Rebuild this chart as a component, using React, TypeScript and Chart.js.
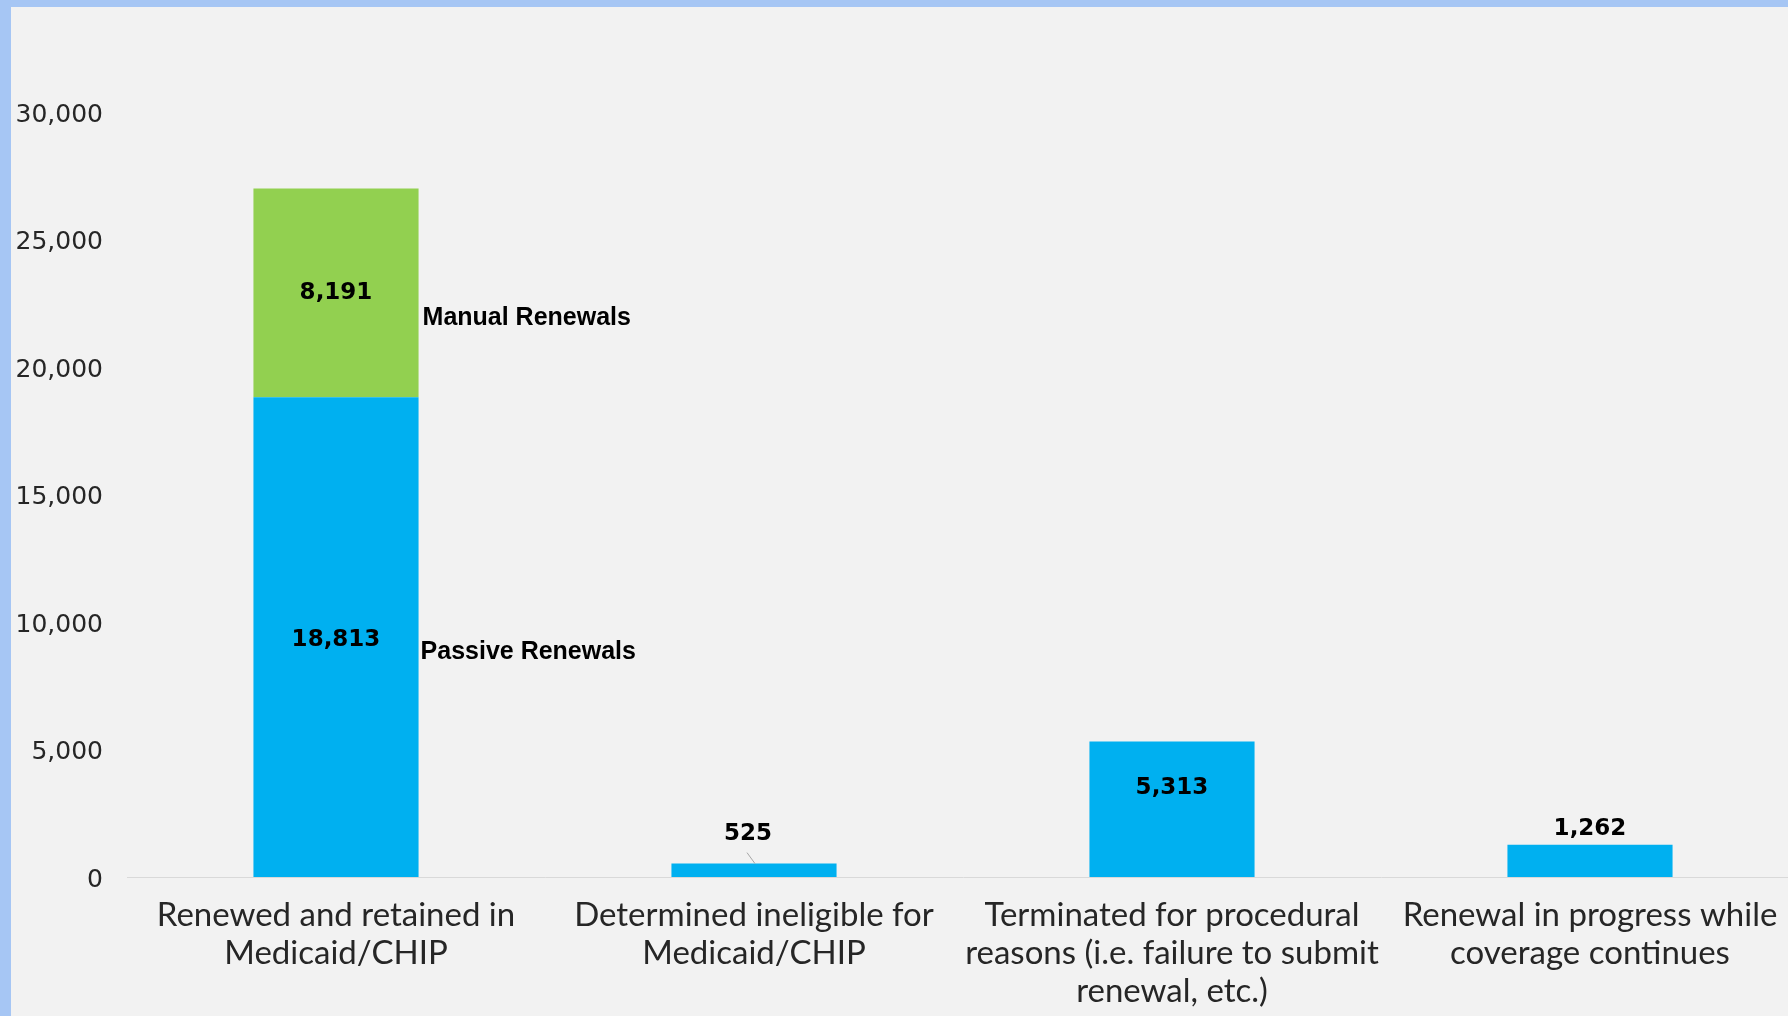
import React, { useEffect, useRef } from "react";
import { Chart, registerables } from "chart.js";

Chart.register(...registerables);

const categories: string[][] = [
  ["Renewed and retained in", "Medicaid/CHIP"],
  ["Determined ineligible for", "Medicaid/CHIP"],
  ["Terminated for procedural", "reasons (i.e. failure to submit", "renewal, etc.)"],
  ["Renewal in progress while", "coverage continues"],
];
const passiveRenewals: (number | null)[] = [18813, 525, 5313, 1262];
const manualRenewals: (number | null)[] = [8191, null, null, null];
const seriesNames = ["Passive Renewals", "Manual Renewals"];
const yMin = 0;
const yMax = 30000;
const yStep = 5000;

// label placement style per category for the blue series
const labelPlacement = ["center", "aboveLeader", "insideTop", "above"];

const BLUE = "#00b0f0";
const GREEN = "#92d050";
const BG = "#f2f2f2";
const FRAME = "#a6c6f4";

const fmt = (v: number) => v.toLocaleString("en-US");

const labelsPlugin = {
  id: "barLabels",
  afterDatasetsDraw(chart: any) {
    const ctx = chart.ctx as CanvasRenderingContext2D;
    ctx.save();
    ctx.font = "bold 23px 'DejaVu Sans'";
    ctx.fillStyle = "#000000";
    ctx.textAlign = "center";
    ctx.textBaseline = "middle";
    const dy = 2;
    chart.data.datasets.forEach((ds: any, di: number) => {
      const meta = chart.getDatasetMeta(di);
      meta.data.forEach((bar: any, i: number) => {
        const v = ds.data[i];
        if (v == null) return;
        const { x, y, base } = bar.getProps(["x", "y", "base"], true);
        const mode = di === 1 ? "center" : labelPlacement[i];
        let lx = x;
        let ly = (y + base) / 2 + (di === 0 ? dy + 1 : 0);
        if (mode === "insideTop") ly = y + 45 + dy;
        else if (mode === "above") ly = y - 18 + dy;
        else if (mode === "aboveLeader") {
          lx = x - 6;
          ly = y - 32 + dy;
          ctx.save();
          ctx.strokeStyle = "#a6a6a6";
          ctx.lineWidth = 1;
          ctx.beginPath();
          ctx.moveTo(lx - 1, ly + 19);
          ctx.lineTo(x + 1, y);
          ctx.stroke();
          ctx.restore();
        }
        ctx.fillText(fmt(v), lx, ly);
      });
    });
    // series name labels beside the first (stacked) bar
    ctx.font = "bold 25px 'Liberation Sans'";
    ctx.textAlign = "left";
    const offsets = [15, 25];
    const xOffsets = [2, 4];
    chart.data.datasets.forEach((ds: any, di: number) => {
      const bar: any = chart.getDatasetMeta(di).data[0];
      if (!bar || ds.data[0] == null) return;
      const { x, y, base, width } = bar.getProps(["x", "y", "base", "width"], true);
      ctx.fillText(ds.label, x + width / 2 + xOffsets[di], (y + base) / 2 + offsets[di]);
    });
    ctx.restore();
  },
};

export default function App() {
  const canvasRef = useRef<HTMLCanvasElement | null>(null);

  useEffect(() => {
    document.body.style.margin = "0";
    const canvas = canvasRef.current!;
    const chart = new Chart(canvas, {
      type: "bar",
      data: {
        labels: categories,
        datasets: [
          {
            label: seriesNames[0],
            data: passiveRenewals,
            backgroundColor: BLUE,
            borderWidth: 0,
          },
          {
            label: seriesNames[1],
            data: manualRenewals,
            backgroundColor: GREEN,
            borderWidth: 0,
          },
        ],
      },
      options: {
        responsive: false,
        animation: false,
        devicePixelRatio: 1,
        layout: { padding: { top: 112, right: 1, left: 0, bottom: 0 } },
        datasets: {
          bar: { categoryPercentage: 0.395, barPercentage: 1 },
        },
        plugins: {
          legend: { display: false },
          tooltip: { enabled: false },
          title: { display: false },
        },
        scales: {
          x: {
            stacked: true,
            grid: { display: false, drawTicks: false },
            border: { display: true, color: "#d9d9d9", width: 1 },
            ticks: {
              autoSkip: false,
              maxRotation: 0,
              minRotation: 0,
              padding: 20,
              color: "#262626",
              font: { family: "Lato", size: 33, lineHeight: 1.14 },
            },
            afterFit: (scale: any) => {
              scale.height = 139;
            },
          },
          y: {
            stacked: true,
            min: yMin,
            max: yMax,
            grid: { display: false, drawTicks: false },
            border: { display: false },
            ticks: {
              stepSize: yStep,
              padding: 24,
              labelOffset: 3,
              color: "#262626",
              font: { family: "DejaVu Sans", size: 25 },
              callback: (v: any) => fmt(Number(v)),
            },
            afterFit: (scale: any) => {
              scale.width = 127;
            },
          },
        },
      },
      plugins: [labelsPlugin],
    });
    return () => chart.destroy();
  }, []);

  return (
    <div
      style={{
        position: "fixed",
        left: 0,
        top: 0,
        width: 1788,
        height: 1016,
        overflow: "hidden",
        background: BG,
      }}
    >
      <canvas
        ref={canvasRef}
        width={1800}
        height={1016}
        style={{ position: "absolute", left: 0, top: 0, display: "block" }}
      />
      <div style={{ position: "absolute", left: 0, top: 0, width: 1788, height: 7, background: FRAME }} />
      <div style={{ position: "absolute", left: 0, top: 0, width: 11, height: 1016, background: FRAME }} />
    </div>
  );
}
